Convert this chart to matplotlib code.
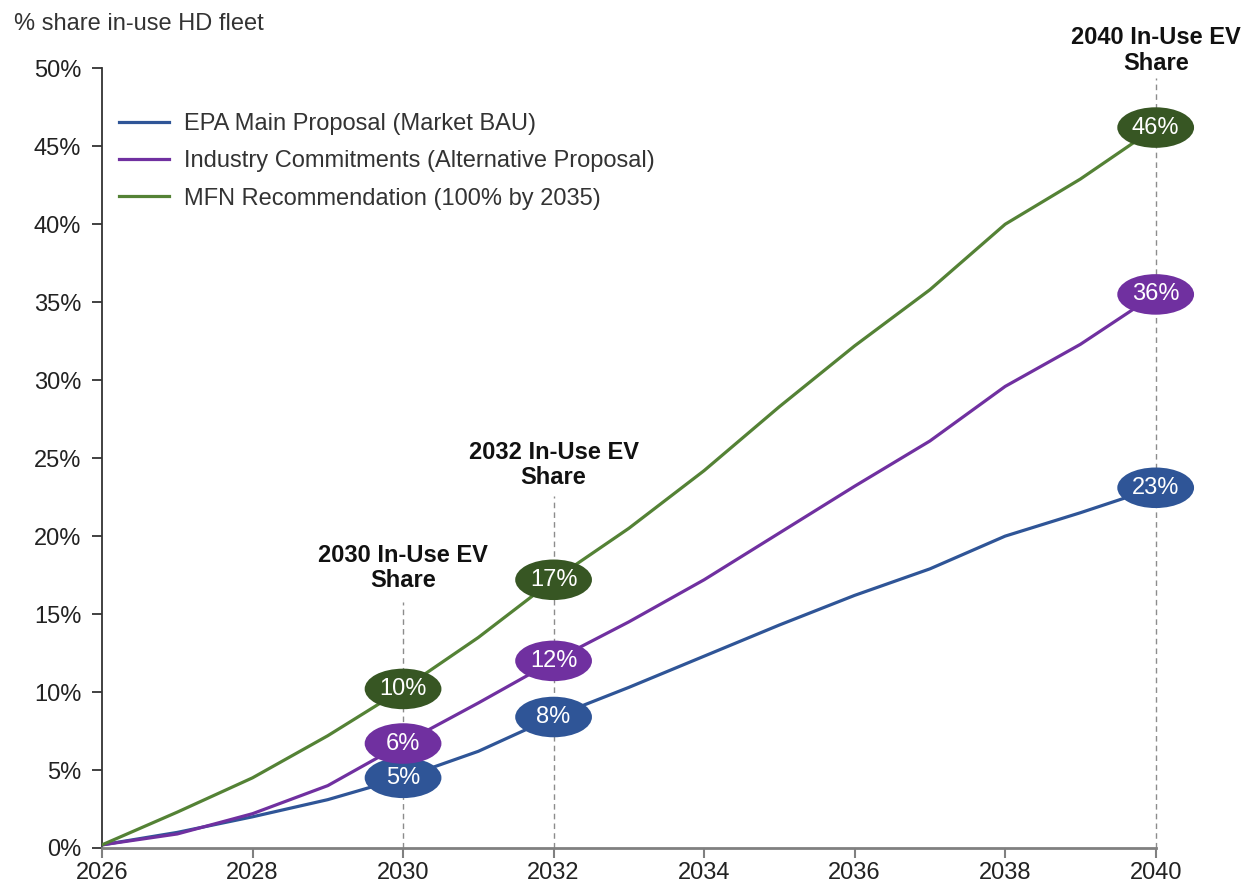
import matplotlib.pyplot as plt
from matplotlib.patches import Ellipse

plt.rcParams["font.family"] = ["Liberation Sans", "DejaVu Sans"]

years = list(range(2026, 2041))

epa_main = [0.2, 1.0, 2.0, 3.1, 4.5, 6.2, 8.4, 10.3, 12.3, 14.3, 16.2, 17.9, 20.0, 21.5, 23.1]
industry = [0.2, 0.9, 2.2, 4.0, 6.7, 9.3, 12.0, 14.5, 17.2, 20.2, 23.2, 26.1, 29.6, 32.3, 35.5]
mfn = [0.2, 2.3, 4.5, 7.2, 10.2, 13.5, 17.2, 20.5, 24.2, 28.3, 32.2, 35.8, 40.0, 42.9, 46.2]

series_names = [
    "EPA Main Proposal (Market BAU)",
    "Industry Commitments (Alternative Proposal)",
    "MFN Recommendation (100% by 2035)",
]
line_colors = ["#2F5597", "#7030A0", "#548235"]
bubble_colors = ["#2F5597", "#7030A0", "#375623"]

# highlighted years and bubble labels
mark_years = [2030, 2032, 2040]
epa_labels = ["5%", "8%", "23%"]
industry_labels = ["6%", "12%", "36%"]
mfn_labels = ["10%", "17%", "46%"]
# top of each dashed marker line and its caption position (% share)
marker_tops = [15.8, 22.6, 49.4]
caption_y = [16.4, 23.0, 49.6]

fig = plt.figure(figsize=(12.44, 8.86), dpi=100)
ax = fig.add_axes([0.082, 0.0429, 0.847, 0.880])

all_series = [epa_main, industry, mfn]
for vals, name, col in zip(all_series, series_names, line_colors):
    ax.plot(years, vals, color=col, linewidth=2.3, label=name, zorder=3)

# dashed markers and captions
for yr, top, cy in zip(mark_years, marker_tops, caption_y):
    ax.plot([yr, yr], [0, top], color="#8C8C8C", linestyle=(0, (4, 3)),
            linewidth=1.0, zorder=1, clip_on=False)
    ax.text(yr, cy, f"{yr} In-Use EV\nShare", ha="center", va="bottom",
            fontsize=17, fontweight="bold", color="#111111",
            linespacing=1.15, clip_on=False)

# value bubbles
all_labels = [epa_labels, industry_labels, mfn_labels]
for vals, labs, col in zip(all_series, all_labels, bubble_colors):
    for yr, lab in zip(mark_years, labs):
        v = vals[years.index(yr)]
        ax.add_patch(Ellipse((yr, v), width=1.02, height=2.6, facecolor=col,
                             edgecolor="none", zorder=4, clip_on=False))
        ax.text(yr, v, lab, ha="center", va="center", color="white",
                fontsize=17, zorder=5)

ax.set_xlim(2026, 2040)
ax.set_ylim(0, 50)
ax.set_xticks(range(2026, 2041, 2))
ax.set_yticks(range(0, 51, 5))
ax.set_yticklabels([f"{t}%" for t in range(0, 51, 5)])

for side in ["top", "right"]:
    ax.spines[side].set_visible(False)
ax.spines["left"].set_color("#333333")
ax.spines["left"].set_linewidth(1.3)
ax.spines["bottom"].set_color("#808080")
ax.spines["bottom"].set_linewidth(2.0)
ax.tick_params(axis="y", direction="out", length=7, width=1.3, color="#333333",
               labelsize=17, labelcolor="#222222", pad=8)
ax.tick_params(axis="x", direction="out", length=7, width=1.5, color="#808080",
               labelsize=17, labelcolor="#222222", pad=3)

fig.text(14 / 1244, 1 - 24 / 886, "% share in-use HD fleet", fontsize=17,
         color="#333333", ha="left", va="center")

ax.legend(loc="upper left", bbox_to_anchor=(-0.004, 0.97), frameon=False,
          fontsize=17, handlelength=2.1, handletextpad=0.65, labelspacing=0.65,
          labelcolor="#333333")

fig.savefig("out.png", dpi=100)
